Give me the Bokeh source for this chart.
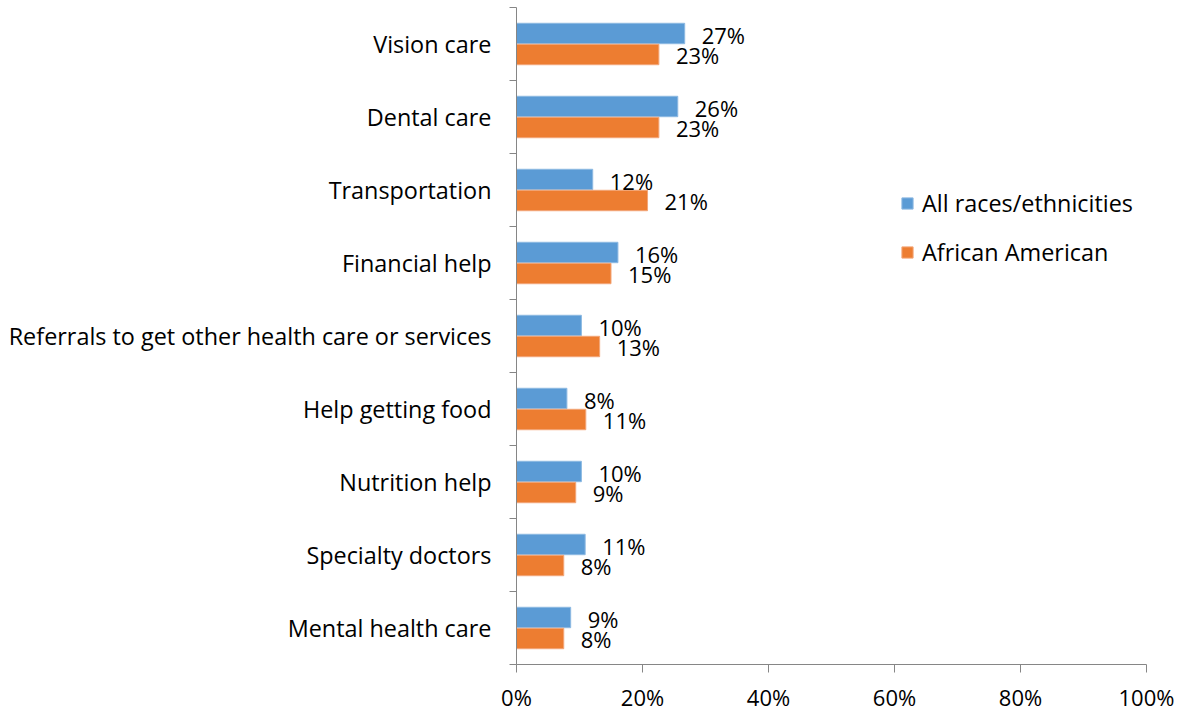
from bokeh.plotting import figure
from bokeh.models import ColumnDataSource, FixedTicker, Range1d, Legend, LegendItem
from bokeh.transform import dodge
from bokeh.embed import file_html
from bokeh.resources import INLINE
from bokeh.core.properties import value

categories = ["Vision care", "Dental care", "Transportation", "Financial help",
              "Referrals to get other health care or services", "Help getting food",
              "Nutrition help", "Specialty doctors", "Mental health care"]
all_races = [26.7, 25.6, 12.1, 16.1, 10.3, 8.0, 10.3, 10.9, 8.6]
african_american = [22.6, 22.6, 20.8, 15.0, 13.2, 11.0, 9.4, 7.5, 7.5]
all_labels = ["27%", "26%", "12%", "16%", "10%", "8%", "10%", "11%", "9%"]
aa_labels = ["23%", "23%", "21%", "15%", "13%", "11%", "9%", "8%", "8%"]
x_ticks = [0, 20, 40, 60, 80, 100]
series_names = ["All races/ethnicities", "African American"]
colors = ["#5B9BD5", "#ED7D31"]

FONT = "Open Sans"
FS_CAT = "23.4px"
FS_NUM = "22px"
n = len(categories)
ys = [n - i - 0.5 for i in range(n)]
bounds = list(range(n + 1))

src = ColumnDataSource(dict(y=ys, cat=categories, a=all_races, b=african_american,
                            la=all_labels, lb=aa_labels))

p = figure(width=1180, height=706, x_range=Range1d(0, 100), y_range=Range1d(0, n),
           frame_width=630, frame_height=657,
           min_border_left=516, min_border_right=34, min_border_top=7, min_border_bottom=42,
           output_backend="svg", toolbar_location=None, outline_line_color=None)
p.xgrid.grid_line_color = None
p.ygrid.grid_line_color = None

r1 = p.hbar(y=dodge("y", 0.144, range=p.y_range), right="a", left=0, height=0.28,
            source=src, fill_color=colors[0], line_color="#8DB9E2", line_width=1)
r2 = p.hbar(y=dodge("y", -0.144, range=p.y_range), right="b", left=0, height=0.28,
            source=src, fill_color=colors[1], line_color="#F3A678", line_width=1)

p.text(x="a", y=dodge("y", 0.13, range=p.y_range), text="la", source=src, x_offset=17,
       text_align="left", text_baseline="middle", text_font=value(FONT),
       text_font_size=FS_NUM, text_color="#000000")
p.text(x="b", y=dodge("y", -0.15, range=p.y_range), text="lb", source=src, x_offset=17,
       text_align="left", text_baseline="middle", text_font=value(FONT),
       text_font_size=FS_NUM, text_color="#000000")

axis_color = "#868686"
ya = p.yaxis[0]
ya.ticker = FixedTicker(ticks=ys, minor_ticks=bounds)
ya.major_label_overrides = {y: c for y, c in zip(ys, categories)}
ya.major_tick_line_color = None
ya.major_tick_in = 0
ya.major_tick_out = 0
ya.minor_tick_in = 0
ya.minor_tick_out = 7
ya.minor_tick_line_color = axis_color
ya.axis_line_color = axis_color
ya.major_label_standoff = 18
ya.major_label_text_font = FONT
ya.major_label_text_font_size = FS_CAT
ya.major_label_text_color = "#000000"

xa = p.xaxis[0]
xa.ticker = FixedTicker(ticks=x_ticks, minor_ticks=[])
xa.major_label_overrides = {t: f"{t}%" for t in x_ticks}
xa.major_tick_in = 0
xa.major_tick_out = 8
xa.major_tick_line_color = axis_color
xa.axis_line_color = axis_color
xa.major_label_standoff = 9
xa.major_label_text_font = FONT
xa.major_label_text_font_size = FS_NUM
xa.major_label_text_color = "#000000"

legend = Legend(items=[LegendItem(label=series_names[0], renderers=[r1]),
                       LegendItem(label=series_names[1], renderers=[r2])],
                location=(384, 396), glyph_width=14, glyph_height=14, label_height=14,
                spacing=17, padding=0, margin=0, label_standoff=8,
                border_line_color=None, background_fill_alpha=0,
                label_text_font=FONT, label_text_font_size=FS_CAT, label_text_color="#000000")
p.add_layout(legend)

open("out.html", "w").write(file_html(p, INLINE))
